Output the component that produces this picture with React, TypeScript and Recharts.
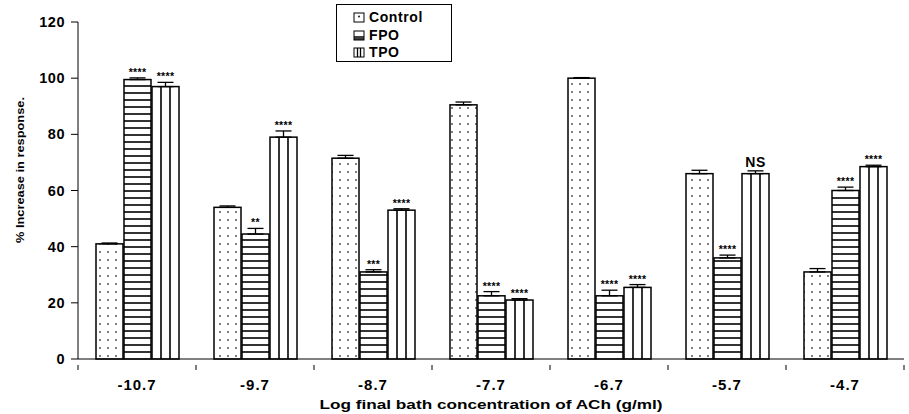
import React from "react";
import {
  BarChart,
  Bar,
  XAxis,
  YAxis,
  ErrorBar,
  LabelList,
} from "recharts";

const categories = ["-10.7", "-9.7", "-8.7", "-7.7", "-6.7", "-5.7", "-4.7"];
const control = [41, 54, 71.5, 90.5, 100, 66, 31];
const fpo = [99.5, 44.5, 31, 22.5, 22.5, 36, 60];
const tpo = [97, 79, 53, 21, 25.5, 66, 68.5];
const controlErr = [0.3, 0.5, 1, 1, 0.2, 1.2, 1.2];
const fpoErr = [0.6, 2, 0.8, 1.5, 2, 1, 1.2];
const tpoErr = [1.5, 2.2, 0.5, 0.5, 1, 1, 0.5];
const fpoSig = ["****", "**", "***", "****", "****", "****", "****"];
const tpoSig = ["****", "****", "****", "****", "****", "NS", "****"];
const yTicks = [0, 20, 40, 60, 80, 100, 120];

const data = categories.map((c, i) => ({
  conc: c,
  control: control[i],
  fpo: fpo[i],
  tpo: tpo[i],
  controlErr: [0, controlErr[i]],
  fpoErr: [0, fpoErr[i]],
  tpoErr: [0, tpoErr[i]],
  fpoSig: fpoSig[i],
  tpoSig: tpoSig[i],
}));

const FONT = "'Liberation Sans', Arial, sans-serif";

function DotBar(props: any) {
  const { x, y, width, height } = props;
  if (!height) return null;
  return (
    <rect x={x} y={y} width={width} height={height} fill="url(#dots)" stroke="#000" strokeWidth={1.5} />
  );
}

function HBar(props: any) {
  const { x, y, width, height } = props;
  if (!height) return null;
  const lines = [];
  for (let yy = y + height - 7; yy > y + 2; yy -= 7) {
    lines.push(<line key={yy} x1={x} x2={x + width} y1={yy} y2={yy} stroke="#000" strokeWidth={1.6} />);
  }
  return (
    <g>
      <rect x={x} y={y} width={width} height={height} fill="#fff" stroke="#000" strokeWidth={1.5} />
      {lines}
    </g>
  );
}

function VBar(props: any) {
  const { x, y, width, height } = props;
  if (!height) return null;
  return (
    <g>
      <rect x={x} y={y} width={width} height={height} fill="#fff" stroke="#000" strokeWidth={1.5} />
      <line x1={x + width / 3} x2={x + width / 3} y1={y} y2={y + height} stroke="#000" strokeWidth={1.6} />
      <line x1={x + (2 * width) / 3} x2={x + (2 * width) / 3} y1={y} y2={y + height} stroke="#000" strokeWidth={1.6} />
    </g>
  );
}

function sigLabel(errs: number[], vals: number[]) {
  return (props: any) => {
    const { x, y, width, height, value, index } = props;
    const perUnit = height / vals[index];
    const top = y - errs[index] * perUnit;
    const ns = value === "NS";
    return (
      <text
        x={x + width / 2}
        y={top - (ns ? 4 : 2)}
        textAnchor="middle"
        fontFamily={FONT}
        fontWeight="bold"
        fontSize={ns ? 14 : 10.5}
        letterSpacing={ns ? 0.5 : 0.3}
        fill="#000"
      >
        {value}
      </text>
    );
  };
}

// category label plus tick marks on the band boundaries
function XTick(props: any) {
  const { x, y, payload, index, visibleTicksCount } = props;
  const half = payload.offset ?? 0;
  const axisY = y - 14;
  return (
    <g>
      <line x1={x - half} x2={x - half} y1={axisY} y2={axisY + 5} stroke="#000" />
      {index === visibleTicksCount - 1 && (
        <line x1={x + half} x2={x + half} y1={axisY} y2={axisY + 5} stroke="#000" />
      )}
      <text
        x={x}
        y={y}
        dy="0.71em"
        textAnchor="middle"
        fontFamily={FONT}
        fontWeight="bold"
        fontSize={15}
        letterSpacing={1}
        fill="#000"
      >
        {payload.value}
      </text>
    </g>
  );
}

function XLabel(props: any) {
  const { viewBox } = props;
  const cx = viewBox.x + viewBox.width / 2;
  return (
    <text
      x={cx}
      y={viewBox.y + viewBox.height - 1}
      textAnchor="middle"
      textLength={343}
      lengthAdjust="spacingAndGlyphs"
      fontFamily={FONT}
      fontWeight="bold"
      fontSize={12.5}
      fill="#000"
    >
      Log final bath concentration of ACh (g/ml)
    </text>
  );
}

function YLabel() {
  return (
    <text
      x={0}
      y={0}
      transform="translate(24, 170) rotate(-90)"
      textAnchor="middle"
      textLength={146}
      lengthAdjust="spacingAndGlyphs"
      fontFamily={FONT}
      fontWeight="bold"
      fontSize={11.5}
      fill="#000"
    >
      % Increase in response.
    </text>
  );
}

function LegendBox() {
  const icon = { verticalAlign: "-1px", marginRight: 3 } as const;
  return (
    <div
      style={{
        position: "absolute",
        left: 336,
        top: 4,
        border: "1px solid #000",
        width: 116,
        height: 58,
        padding: "4px 0 0 16px",
        boxSizing: "border-box",
        fontFamily: FONT,
        fontWeight: "bold",
        fontSize: 14,
        letterSpacing: 0.6,
        lineHeight: "17.5px",
        background: "#fff",
      }}
    >
      <div>
        <svg width={13} height={11} style={icon}>
          <rect x={1} y={1} width={10} height={9} fill="#fff" stroke="#000" />
          <circle cx={6} cy={4.5} r={0.9} fill="#000" />
        </svg>
        Control
      </div>
      <div>
        <svg width={13} height={11} style={icon}>
          <rect x={1} y={1} width={10} height={9} fill="#fff" stroke="#000" />
          <line x1={1} x2={11} y1={7} y2={7} stroke="#000" strokeWidth={1.5} />
          <line x1={1} x2={11} y1={9} y2={9} stroke="#000" strokeWidth={1.5} />
        </svg>
        FPO
      </div>
      <div>
        <svg width={13} height={11} style={icon}>
          <rect x={1} y={1} width={10} height={9} fill="#fff" stroke="#000" />
          <line x1={4.5} x2={4.5} y1={1} y2={10} stroke="#000" strokeWidth={1.3} />
          <line x1={7.5} x2={7.5} y1={1} y2={10} stroke="#000" strokeWidth={1.3} />
        </svg>
        TPO
      </div>
    </div>
  );
}

export default function App() {
  return (
    <div style={{ position: "fixed", left: 0, top: 0, width: 909, height: 414, background: "#fff" }}>
      <BarChart
        width={909}
        height={414}
        data={data}
        margin={{ top: 22, right: 5, bottom: 4, left: 0 }}
        barCategoryGap={18}
        barGap={1}
      >
        <defs>
          <pattern id="dots" patternUnits="userSpaceOnUse" width={8} height={8}>
            <rect width={8} height={8} fill="#fff" />
            <circle cx={4} cy={4} r={0.9} fill="#444" />
          </pattern>
        </defs>
        <XAxis
          dataKey="conc"
          height={51}
          tickLine={false}
          axisLine={{ stroke: "#000" }}
          tick={<XTick />}
          tickMargin={14}
          label={<XLabel />}
        />
        <YAxis
          domain={[0, 120]}
          ticks={yTicks}
          width={78}
          axisLine={{ stroke: "#000" }}
          tickLine={{ stroke: "#000" }}
          tickSize={7}
          tickMargin={6}
          tick={{ fill: "#000", fontFamily: FONT, fontWeight: "bold", fontSize: 14.5, letterSpacing: 0.5 }}
          label={<YLabel />}
        />
        <Bar dataKey="control" name="Control" shape={DotBar} isAnimationActive={false}>
          <ErrorBar dataKey="controlErr" width={8} stroke="#000" strokeWidth={1.3} />
        </Bar>
        <Bar dataKey="fpo" name="FPO" shape={HBar} isAnimationActive={false}>
          <ErrorBar dataKey="fpoErr" width={8} stroke="#000" strokeWidth={1.3} />
          <LabelList dataKey="fpoSig" content={sigLabel(fpoErr, fpo)} />
        </Bar>
        <Bar dataKey="tpo" name="TPO" shape={VBar} isAnimationActive={false}>
          <ErrorBar dataKey="tpoErr" width={8} stroke="#000" strokeWidth={1.3} />
          <LabelList dataKey="tpoSig" content={sigLabel(tpoErr, tpo)} />
        </Bar>
      </BarChart>
      <LegendBox />
    </div>
  );
}
